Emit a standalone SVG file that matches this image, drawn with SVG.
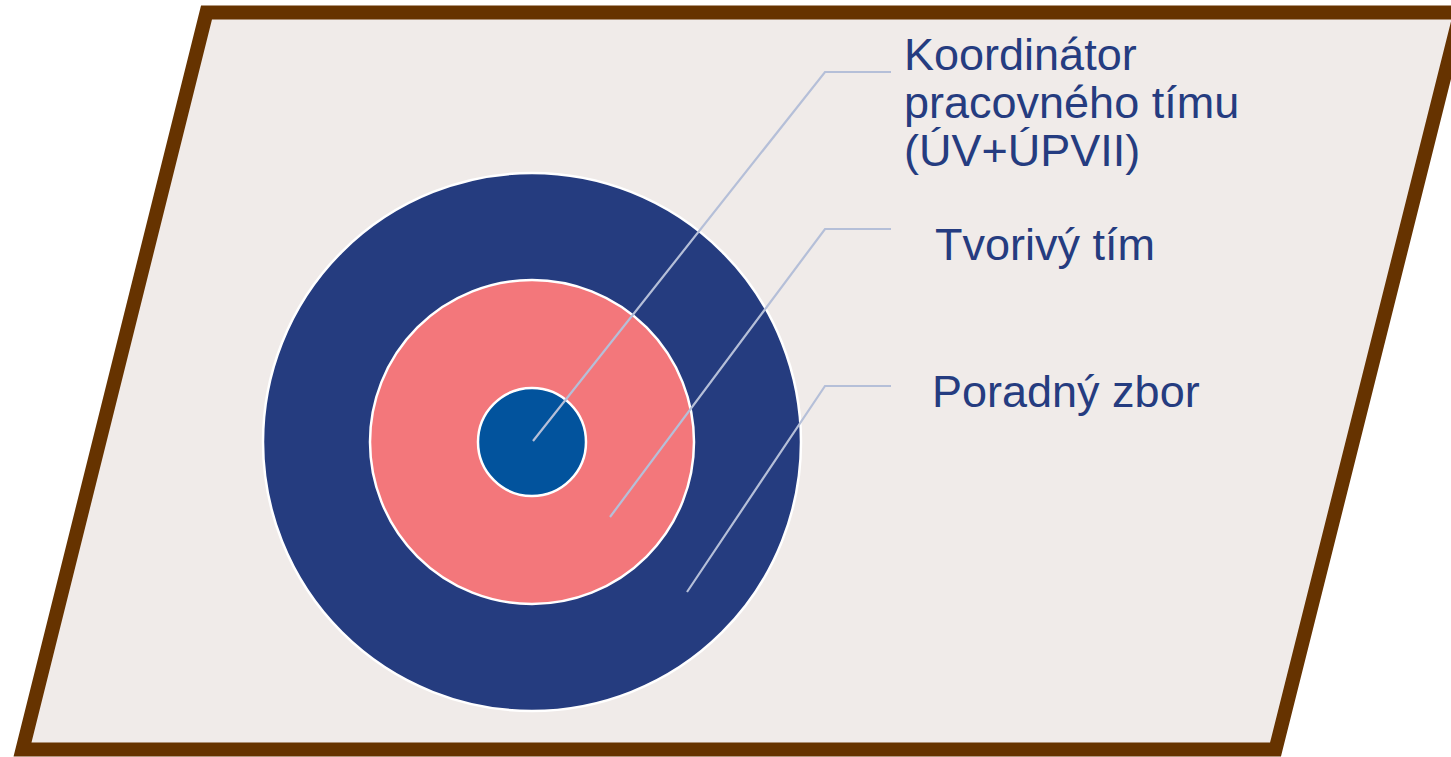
<svg xmlns="http://www.w3.org/2000/svg" width="1451" height="757" viewBox="0 0 1451 757">
<style>
.lbl{font-family:"Liberation Sans",Arial,sans-serif;font-size:45px;fill:#253C80}
.conn{fill:none;stroke:#B5BFD8;stroke-width:2.2}
.ring{stroke:#FFFFFF;stroke-width:2.5}
</style>
<g id="background">
<polygon points="206.5,12.5 1460.5,12.5 1275.5,749.5 22.5,749.5" fill="#F0EBE9" stroke="#663300" stroke-width="14" stroke-linejoin="miter"/>
</g>
<g id="node-poradny-zbor">
<circle cx="532" cy="442" r="269" fill="#253C7F" class="ring"/>
</g>
<g id="node-tvorivy-tim">
<circle cx="532" cy="442" r="162" fill="#F3777B" class="ring"/>
</g>
<g id="node-koordinator">
<circle cx="532" cy="442" r="54" fill="#02539D" class="ring"/>
</g>
<g id="connectors">
<polyline class="conn" points="533,441 825,72 891,72"/>
<polyline class="conn" points="610,517 825,229 891,229"/>
<polyline class="conn" points="687,592 825,386 891,386"/>
</g>
<g id="labels">
<text class="lbl" x="904" y="70">Koordinátor</text>
<text class="lbl" x="904" y="118">pracovného tímu</text>
<text class="lbl" x="904" y="166">(ÚV+ÚPVII)</text>
<text class="lbl" x="935" y="260">Tvorivý tím</text>
<text class="lbl" x="932" y="407">Poradný zbor</text>
</g>
</svg>
